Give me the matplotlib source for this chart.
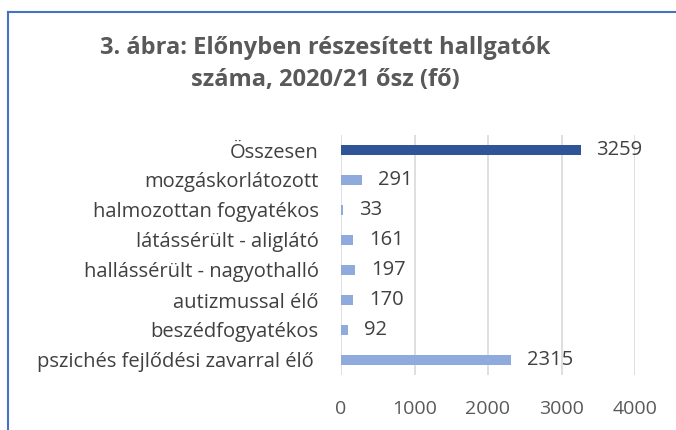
import matplotlib
matplotlib.use('Agg')
import matplotlib.pyplot as plt
from matplotlib.lines import Line2D

categories = ['Összesen', 'mozgáskorlátozott', 'halmozottan fogyatékos',
              'látássérült - aliglátó', 'hallássérült - nagyothalló',
              'autizmussal élő', 'beszédfogyatékos',
              'pszichés fejlődési zavarral élő ']
values = [3259, 291, 33, 161, 197, 170, 92, 2315]
colors = ['#2F5597'] + ['#8FAADC'] * 7
xticks = [0, 1000, 2000, 3000, 4000]

plt.rcParams['font.family'] = ['Open Sans', 'DejaVu Sans']

fig = plt.figure(figsize=(6.76, 4.30), dpi=100)
ax = fig.add_axes([341/676, 1 - 375/430, (635 - 341)/676, 240/430])

pos = list(range(len(categories)))[::-1]
ax.barh(pos, values, height=0.36, color=colors, zorder=3)
for p, v in zip(pos, values):
    ax.annotate(str(v), (v, p), xytext=(11.5, 0), textcoords='offset points',
                va='center', ha='left', fontsize=14.5, color='#404040')

ax.set_xlim(0, 4000)
ax.set_ylim(-0.5, 7.5)
ax.set_xticks(xticks)
ax.set_xticklabels([str(t) for t in xticks], fontsize=14, color='#595959')
ax.set_yticks(pos)
ax.set_yticklabels(categories, fontsize=14.5, color='#404040')
ax.tick_params(length=0, pad=16, axis='y')
ax.tick_params(length=0, pad=18, axis='x')
ax.grid(axis='x', color='#D9D9D9', linewidth=1.2, zorder=0)
for s in ax.spines.values():
    s.set_visible(False)

fig.text(325/676, 1 - 64/430, '3. ábra: Előnyben részesített hallgatók\nszáma, 2020/21 ősz (fő)',
         ha='center', va='center', fontsize=17, fontweight='bold', color='#595959',
         linespacing=1.4)

# chart frame (only left and top visible in the crop)
fig.add_artist(Line2D([8/676, 8/676], [0, 1 - 12/430], color='#4472C4', linewidth=1.5))
fig.add_artist(Line2D([8/676, 1], [1 - 12/430, 1 - 12/430], color='#4472C4', linewidth=1.5))

fig.savefig('out.png', dpi=100)
